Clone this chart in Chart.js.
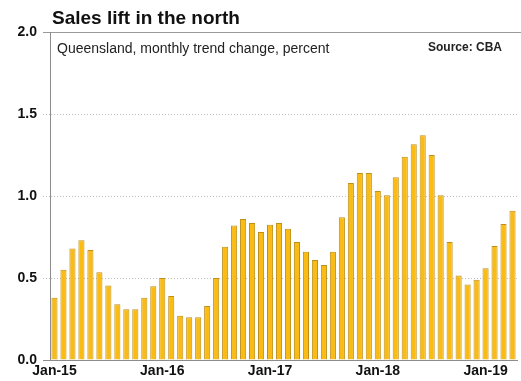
<!DOCTYPE html>
<html>
<head>
<meta charset="utf-8">
<script src="https://cdn.jsdelivr.net/npm/chart.js@4/dist/chart.umd.min.js"></script>
<style>
  html, body { margin: 0; padding: 0; background: #fff; }
  #wrap { width: 521px; height: 381px; position: relative; }
</style>
</head>
<body>
<div id="wrap"><canvas id="c" width="521" height="381"></canvas></div>
<script>
const titleText = 'Sales lift in the north';
const subtitleText = 'Queensland, monthly trend change, percent';
const sourceText = 'Source: CBA';

const months = [
  'Jan-15','Feb-15','Mar-15','Apr-15','May-15','Jun-15','Jul-15','Aug-15','Sep-15','Oct-15','Nov-15','Dec-15',
  'Jan-16','Feb-16','Mar-16','Apr-16','May-16','Jun-16','Jul-16','Aug-16','Sep-16','Oct-16','Nov-16','Dec-16',
  'Jan-17','Feb-17','Mar-17','Apr-17','May-17','Jun-17','Jul-17','Aug-17','Sep-17','Oct-17','Nov-17','Dec-17',
  'Jan-18','Feb-18','Mar-18','Apr-18','May-18','Jun-18','Jul-18','Aug-18','Sep-18','Oct-18','Nov-18','Dec-18',
  'Jan-19','Feb-19','Mar-19','Apr-19'
];

const salesChange = [
  0.38, 0.55, 0.68, 0.73, 0.67, 0.535, 0.455, 0.34, 0.31, 0.31, 0.38, 0.45,
  0.50, 0.39, 0.27, 0.26, 0.26, 0.33, 0.50, 0.69, 0.82, 0.86, 0.835, 0.78,
  0.825, 0.835, 0.80, 0.72, 0.66, 0.61, 0.58, 0.66, 0.87, 1.08, 1.14, 1.14,
  1.03, 1.005, 1.115, 1.24, 1.315, 1.37, 1.25, 1.005, 0.72, 0.515, 0.46, 0.49,
  0.56, 0.695, 0.83, 0.91
];

const yTicks = [0, 0.5, 1.0, 1.5, 2.0];

const FONT = '"Liberation Sans", Arial, Helvetica, sans-serif';

const textPlugin = {
  id: 'textPlugin',
  afterDraw(chart) {
    const ctx = chart.ctx;
    const area = chart.chartArea;
    ctx.save();
    // extend the top frame line to the right edge
    ctx.strokeStyle = '#9a9a9a';
    ctx.lineWidth = 1;
    ctx.beginPath();
    ctx.moveTo(area.right, Math.round(area.top) + 0.5);
    ctx.lineTo(chart.width, Math.round(area.top) + 0.5);
    ctx.stroke();

    ctx.fillStyle = '#111';
    ctx.textBaseline = 'alphabetic';
    ctx.textAlign = 'left';
    ctx.font = 'bold 19px ' + FONT;
    ctx.fillText(titleText, area.left + 2, 24);
    ctx.fillStyle = '#222';
    ctx.font = '14px ' + FONT;
    ctx.fillText(subtitleText, area.left + 7, 53);
    ctx.textAlign = 'right';
    ctx.font = 'bold 12px ' + FONT;
    ctx.fillText(sourceText, 502, 51);
    ctx.restore();
  }
};

new Chart(document.getElementById('c'), {
  type: 'bar',
  data: {
    labels: months,
    datasets: [{
      data: salesChange,
      backgroundColor: '#F9BB14',
      borderColor: '#BE901A',
      borderWidth: 1,
      borderSkipped: 'bottom',
      barPercentage: 0.68,
      categoryPercentage: 1.0
    }]
  },
  options: {
    responsive: false,
    animation: false,
    devicePixelRatio: 1,
    layout: { padding: { top: 32, right: 4, left: 0, bottom: 0 } },
    plugins: {
      legend: { display: false },
      title: { display: false },
      tooltip: { enabled: false }
    },
    scales: {
      x: {
        grid: { display: false, drawTicks: false },
        border: { display: true, color: '#8c8c8c', width: 1 },
        ticks: {
          autoSkip: false,
          maxRotation: 0,
          minRotation: 0,
          padding: 3,
          color: '#111',
          font: { family: FONT, size: 14, weight: 'bold' },
          callback: function(val, i) {
            const lab = months[i];
            return lab.startsWith('Jan') ? lab : '';
          }
        },
        afterFit(s) { s.height = 21; }
      },
      y: {
        min: 0,
        max: 2,
        afterBuildTicks(s) { s.ticks = yTicks.map(v => ({ value: v })); },
        grid: {
          color: (c) => (c.tick && c.tick.value === 2) ? '#9a9a9a' : (c.tick && c.tick.value === 0 ? '#8c8c8c' : '#bdbdbd'),
          tickColor: (c) => (c.tick && c.tick.value === 2) ? '#9a9a9a' : (c.tick && c.tick.value === 0 ? '#8c8c8c' : '#bdbdbd'),
          tickLength: 7,
          tickBorderDash: (c) => (c.tick && (c.tick.value === 2 || c.tick.value === 0)) ? [] : [1, 2],
          lineWidth: 1
        },
        border: {
          display: true,
          color: '#8c8c8c',
          width: 1,
          dash: (c) => (c.tick && c.tick.value !== 2 && c.tick.value !== 0) ? [1, 2] : []
        },
        ticks: {
          padding: 6,
          color: '#111',
          font: { family: FONT, size: 14, weight: 'bold' },
          callback: (v) => Number(v).toFixed(1)
        },
        afterFit(s) { s.width = 50; }
      }
    }
  },
  plugins: [textPlugin]
});
</script>
</body>
</html>
